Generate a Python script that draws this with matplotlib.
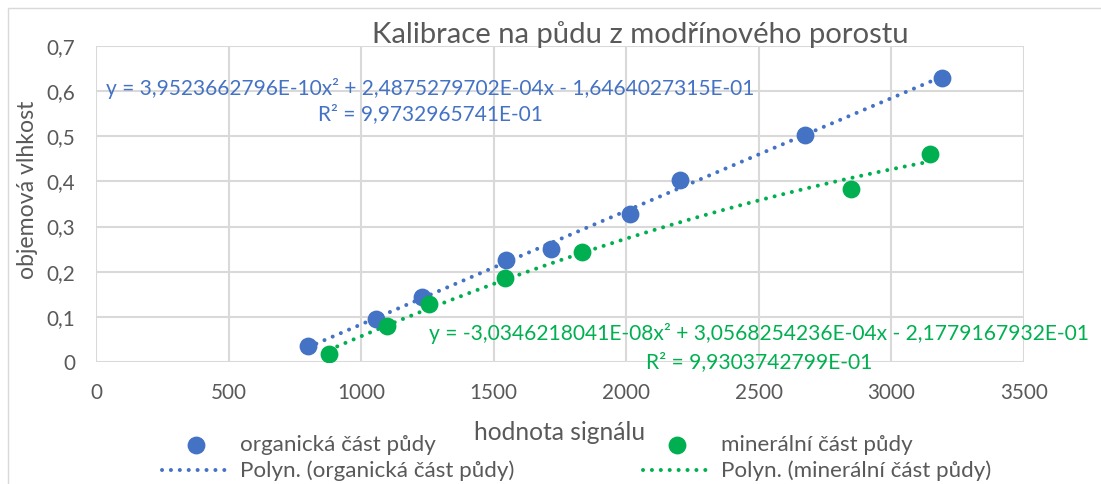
import matplotlib.pyplot as plt
import numpy as np
from matplotlib.patches import Rectangle

# measured points (signal value, volumetric moisture)
org_x = [800, 1056, 1230, 1546, 1716, 2014, 2203, 2674, 3191]
org_y = [0.035, 0.095, 0.144, 0.226, 0.251, 0.328, 0.404, 0.503, 0.630]
min_x = [879, 1098, 1256, 1543, 1833, 2848, 3146]
min_y = [0.018, 0.080, 0.129, 0.186, 0.244, 0.384, 0.461]

yticklabels = ["0", "0,1", "0,2", "0,3", "0,4", "0,5", "0,6", "0,7"]
org_eq = ["y = 3,9523662796E-10x² + 2,4875279702E-04x - 1,6464027315E-01", "R² = 9,9732965741E-01"]
min_eq = ["y = -3,0346218041E-08x² + 3,0568254236E-04x - 2,1779167932E-01", "R² = 9,9303742799E-01"]
labels_org = ["organická část půdy", "Polyn. (organická část půdy)"]
labels_min = ["minerální část půdy", "Polyn. (minerální část půdy)"]

BLUE = "#4472C4"
GREEN = "#00B050"
GRAY = "#595959"
W, H = 1101, 484

plt.rcParams["font.family"] = ["Lato", "DejaVu Sans"]

fig = plt.figure(figsize=(W / 100, H / 100), dpi=100)
renderer = fig.canvas.get_renderer()
fig.patches.append(Rectangle((8 / W, -0.1), 1.2, 1.1 - 8 / H, transform=fig.transFigure,
                             fill=False, edgecolor="#d9d9d9", linewidth=1))
ax = fig.add_axes([96 / W, 122 / H, 928 / W, 316 / H])


def px(x, y):
    # pixel position (from top-left) -> figure fraction
    return x / W, 1 - y / H


def size_for(s, target, base=15):
    # font size that makes string s about `target` pixels wide
    t = fig.text(0, 0, s, fontsize=base)
    w = t.get_window_extent(renderer).width
    t.remove()
    return base * target / w


def trend(x, y):
    c = np.polyfit(x, y, 2)
    xs = np.linspace(min(x), max(x), 200)
    return xs, np.polyval(c, xs)


# round dots like Excel's "round dot" dash type
dots = (0, (0.01, 2.2))
xs, ys = trend(org_x, org_y)
sc1 = ax.scatter(org_x, org_y, s=140, color=BLUE, zorder=3)
ln1, = ax.plot(xs, ys, color=BLUE, lw=2.9, linestyle=dots, dash_capstyle="round", zorder=2)
xs, ys = trend(min_x, min_y)
sc2 = ax.scatter(min_x, min_y, s=140, color=GREEN, zorder=3)
ln2, = ax.plot(xs, ys, color=GREEN, lw=2.9, linestyle=dots, dash_capstyle="round", zorder=2)

ax.set_xlim(0, 3500)
ax.set_ylim(0, 0.7)
ax.set_xticks(range(0, 3501, 500))
ax.set_yticks(np.arange(0, 0.71, 0.1))
ax.set_yticklabels(yticklabels)
ax.grid(True, color="#d9d9d9", linewidth=1.5)
ax.set_axisbelow(True)
for s in ax.spines.values():
    s.set_visible(False)
ax.tick_params(length=0, labelsize=size_for("3500", 48), colors=GRAY)
ax.tick_params(axis="x", pad=15)
ax.tick_params(axis="y", pad=15)

fig.text(*px(640, 35), "Kalibrace na půdu z modřínového porostu",
         fontsize=size_for("Kalibrace na půdu z modřínového porostu", 538),
         color=GRAY, ha="center", va="center")
fig.text(*px(560, 432), "hodnota signálu", fontsize=size_for("hodnota signálu", 172),
         color=GRAY, ha="center", va="center")
fig.text(*px(28, 190), "objemová vlhkost", fontsize=size_for("objemová vlhkost", 178),
         color=GRAY, ha="center", va="center", rotation=90)

fs = size_for(org_eq[0], 650)
for (cx, cy), line in zip([(430, 88), (430, 114)], org_eq):
    fig.text(*px(cx, cy), line, color=BLUE, fontsize=fs, ha="center", va="center")
fs = size_for(min_eq[0], 662)
for (cx, cy), line in zip([(759, 333), (759, 362)], min_eq):
    fig.text(*px(cx, cy), line, color=GREEN, fontsize=fs, ha="center", va="center")

lfs = size_for(labels_min[1], 270)
lpx = lfs * 100 / 72
common = dict(frameon=False, loc="center left", fontsize=lfs, labelcolor=GRAY,
              handlelength=68 / lpx, handletextpad=10 / lpx, labelspacing=0.28,
              borderaxespad=0, borderpad=0)
fig.legend([sc1, ln1], labels_org, bbox_to_anchor=px(162, 458), **common)
fig.legend([sc2, ln2], labels_min, bbox_to_anchor=px(643, 458), **common)

fig.savefig("out.png", dpi=100)
